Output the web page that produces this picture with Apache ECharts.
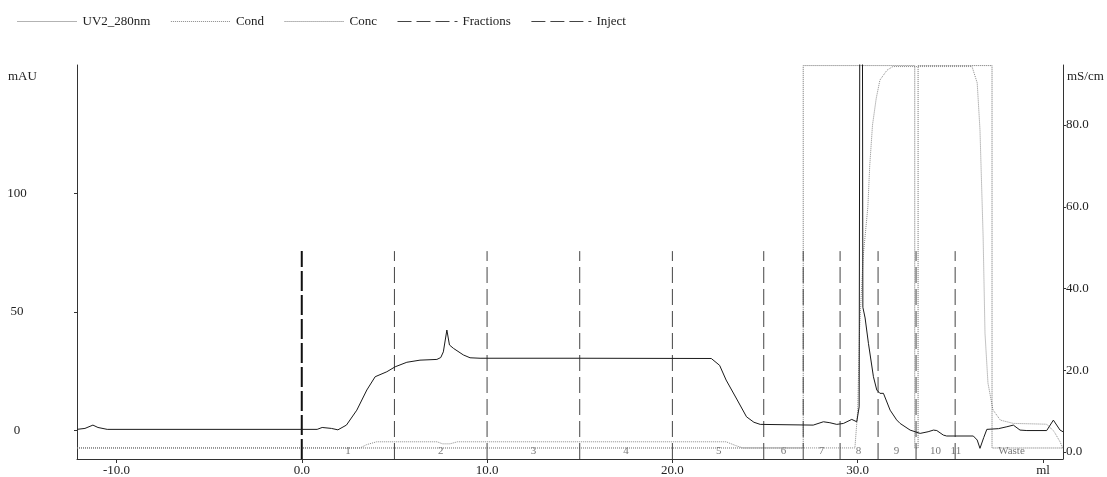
<!DOCTYPE html>
<html>
<head>
<meta charset="utf-8">
<script src="https://cdn.jsdelivr.net/npm/echarts@6/dist/echarts.min.js"></script>
<style>
html,body{margin:0;padding:0;background:#fff;}
#chart{width:1107px;height:477px;}
</style>
</head>
<body>
<div id="chart"></div>
<script>
// ---- data (ml, mAU / mS/cm / %) ----
const uvX = [-12.13, -11.7, -11.27, -11.0, -10.5, 0.83, 1.1, 1.6, 1.95, 2.41, 2.97, 3.51, 3.96, 4.59, 5.04, 5.67, 6.38, 7.29, 7.5, 7.64, 7.83, 7.97, 8.18, 8.72, 9.08, 9.62, 15.0, 22.1, 22.55, 22.9, 23.5, 24.0, 24.4, 24.74, 27.6, 28.15, 28.5, 28.87, 29.23, 29.68, 29.95, 30.08, 30.13, 30.24, 30.28, 30.4, 30.58, 30.85, 31.03, 31.2, 31.39, 31.75, 32.1, 32.29, 32.83, 33.37, 33.8, 34.09, 34.27, 34.62, 34.8, 36.24, 36.45, 36.6, 36.8, 36.97, 37.6, 38.05, 38.4, 38.76, 39.13, 40.2, 40.56, 40.92, 41.08];
const uvY = [0.5, 0.9, 2.3, 1.3, 0.5, 0.5, 1.3, 0.9, 0.3, 2.3, 8.6, 17.1, 22.7, 24.8, 26.9, 28.8, 29.7, 30.0, 30.8, 33.2, 42.4, 36.1, 34.7, 31.9, 30.7, 30.5, 30.5, 30.4, 27.5, 21.3, 12.9, 5.8, 3.5, 2.6, 2.3, 3.7, 3.3, 2.6, 3.0, 4.7, 3.7, 10, 250, 250, 52, 47.5, 36.8, 22.7, 17.1, 15.7, 15.7, 8.6, 4.5, 3.0, 0.2, -1.2, -0.5, 0.2, 0.0, -1.9, -2.3, -2.3, -4.0, -7.5, -3.0, 0.5, 0.8, 1.6, 2.3, 0.2, 0.0, 0.0, 4.4, 0.2, -0.5];

const condX = [-12.13, 3.15, 3.5, 4.04, 7.3, 7.6, 8.0, 8.4, 22.9, 23.4, 23.8, 29.85, 30.0, 30.1, 30.3, 30.55, 30.65, 30.8, 31.0, 31.2, 31.58, 31.9, 36.17, 36.45, 36.6, 36.77, 36.87, 37.03, 37.3, 37.7, 38.4, 40.2, 40.6, 40.92, 41.08];
const condY = [1.0, 1.0, 1.8, 2.5, 2.5, 2.0, 2.0, 2.5, 2.5, 1.6, 1.0, 1.0, 10, 30, 48, 60, 70, 80, 86.5, 91, 93.4, 94.3, 94.3, 90.3, 78.8, 52.6, 29.1, 16.9, 10.3, 7.8, 7.0, 6.8, 5.0, 2.5, 0.9];

const concX = [-12.13, 27.06, 27.06, 33.08, 33.08, 33.26, 33.26, 37.25, 37.25, 41.08];
const concY = [0, 0, 100, 100, 0, 0, 100, 100, 0, 0];

const injectPositions = [0.0];
const fractionPositions = [5.0, 10.0, 15.0, 20.0, 24.93, 27.06, 29.05, 31.1, 33.15, 35.26];
const fractionLabels = ['1', '2', '3', '4', '5', '6', '7', '8', '9', '10', '11', 'Waste'];
const fractionLabelPos = [2.5, 7.5, 12.5, 17.5, 22.5, 26.0, 28.05, 30.05, 32.1, 34.2, 35.3, 38.3];

const xTicks = [-10, 0, 10, 20, 30, 40];
const uvTicks = [0, 50, 100];
const condTicks = [0, 20, 40, 60, 80];

// ---- chart ----
const FONT = '"Liberation Serif", "DejaVu Serif", serif';
const uvMin = -12.0, uvMax = 154.2;
const markerTop = 75.7;
const labelY = -8.6;
const NOSYM = {color: 'rgba(0,0,0,0)', borderColor: 'rgba(0,0,0,0)', borderWidth: 0};

function markerData(positions) {
  const d = [];
  positions.forEach(p => { d.push([p, uvMin]); d.push([p, markerTop]); d.push([p, '-']); });
  return d;
}

const chart = echarts.init(document.getElementById('chart'), null, {renderer: 'canvas'});
const option = {
  animation: false,
  backgroundColor: '#fff',
  grid: {left: 77, right: 44, top: 65, bottom: 18, containLabel: false},
  legend: {
    left: 12, top: 10, itemWidth: 60, itemHeight: 14, itemGap: 20,
    textStyle: {fontFamily: FONT, fontSize: 13, color: '#222'},
    data: [
      {name: 'UV2_280nm', itemStyle: NOSYM, lineStyle: {type: 'dotted', color: '#666', width: 1}},
      {name: 'Cond', itemStyle: NOSYM, lineStyle: {type: 'dotted', color: '#888', width: 1}},
      {name: 'Conc', itemStyle: NOSYM, lineStyle: {type: 'dotted', color: '#777', width: 1}},
      {name: 'Fractions', itemStyle: NOSYM, lineStyle: {type: [14, 5], color: '#444', width: 1}},
      {name: 'Inject', itemStyle: NOSYM, lineStyle: {type: [14, 5], color: '#444', width: 1}}
    ]
  },
  xAxis: {
    type: 'value', min: -12.13, max: 41.08,
    axisLine: {onZero: false, lineStyle: {color: '#333', width: 1}},
    axisTick: {customValues: xTicks, length: 4, lineStyle: {color: '#333'}},
    axisLabel: {customValues: xTicks, margin: 5, fontFamily: FONT, fontSize: 13, color: '#222',
      formatter: v => (v === 40 ? 'ml' : v.toFixed(1))},
    splitLine: {show: false}
  },
  yAxis: [
    {
      type: 'value', position: 'left', min: uvMin, max: uvMax,
      axisLine: {show: true, onZero: false, lineStyle: {color: '#333'}},
      axisTick: {show: true, customValues: uvTicks, length: 3, lineStyle: {color: '#333'}},
      axisLabel: {customValues: uvTicks, margin: 60, align: 'center', fontFamily: FONT, fontSize: 13, color: '#222'},
      splitLine: {show: false}
    },
    {
      type: 'value', position: 'right', min: -1.71, max: 94.68,
      axisLine: {show: true, onZero: false, lineStyle: {color: '#333'}},
      axisTick: {show: true, customValues: condTicks, length: 3, lineStyle: {color: '#333'}},
      axisLabel: {customValues: condTicks, margin: 3, fontFamily: FONT, fontSize: 13, color: '#222',
        formatter: v => v.toFixed(1)},
      splitLine: {show: false}
    },
    {
      type: 'value', show: false, min: -2.88, max: 100.15,
      axisLine: {onZero: false}, splitLine: {show: false}
    }
  ],
  graphic: [
    {type: 'text', left: 8, top: 70, style: {text: 'mAU', font: '13px ' + FONT, fill: '#222'}},
    {type: 'text', left: 1067, top: 70, style: {text: 'mS/cm', font: '13px ' + FONT, fill: '#222'}}
  ],
  series: [
    {
      name: 'UV2_280nm', type: 'line', yAxisIndex: 0, symbol: 'none', z: 5,
      lineStyle: {color: '#1a1a1a', width: 1},
      itemStyle: {color: '#1a1a1a'},
      data: uvX.map((x, i) => [x, uvY[i]])
    },
    {
      name: 'Cond', type: 'line', yAxisIndex: 1, symbol: 'none', z: 3,
      lineStyle: {color: '#8a8a8a', width: 1, type: 'dotted'},
      itemStyle: {color: '#8a8a8a'},
      data: condX.map((x, i) => [x, condY[i]])
    },
    {
      name: 'Conc', type: 'line', yAxisIndex: 2, symbol: 'none', z: 3,
      lineStyle: {color: '#6e6e6e', width: 1, type: 'dotted'},
      itemStyle: {color: '#6e6e6e'},
      data: concX.map((x, i) => [x, concY[i]])
    },
    {
      name: 'Fractions', type: 'line', yAxisIndex: 0, symbol: 'none', z: 4, connectNulls: false,
      lineStyle: {color: '#444', width: 1, type: [16, 6]},
      itemStyle: {color: '#444'},
      data: markerData(fractionPositions)
    },
    {
      name: 'Inject', type: 'line', yAxisIndex: 0, symbol: 'none', z: 4, connectNulls: false,
      lineStyle: {color: '#111', width: 2, type: [20, 4]},
      itemStyle: {color: '#111'},
      data: markerData(injectPositions)
    },
    {
      name: 'fractionText', type: 'scatter', yAxisIndex: 0, symbolSize: 2, silent: true, z: 2,
      itemStyle: {color: 'rgba(0,0,0,0)'},
      label: {show: true, position: 'inside', formatter: '{b}', fontFamily: FONT, fontSize: 11, color: '#555'},
      data: fractionLabels.map((n, i) => ({name: n, value: [fractionLabelPos[i], labelY]}))
    }
  ]
};
chart.setOption(option);
</script>
</body>
</html>
